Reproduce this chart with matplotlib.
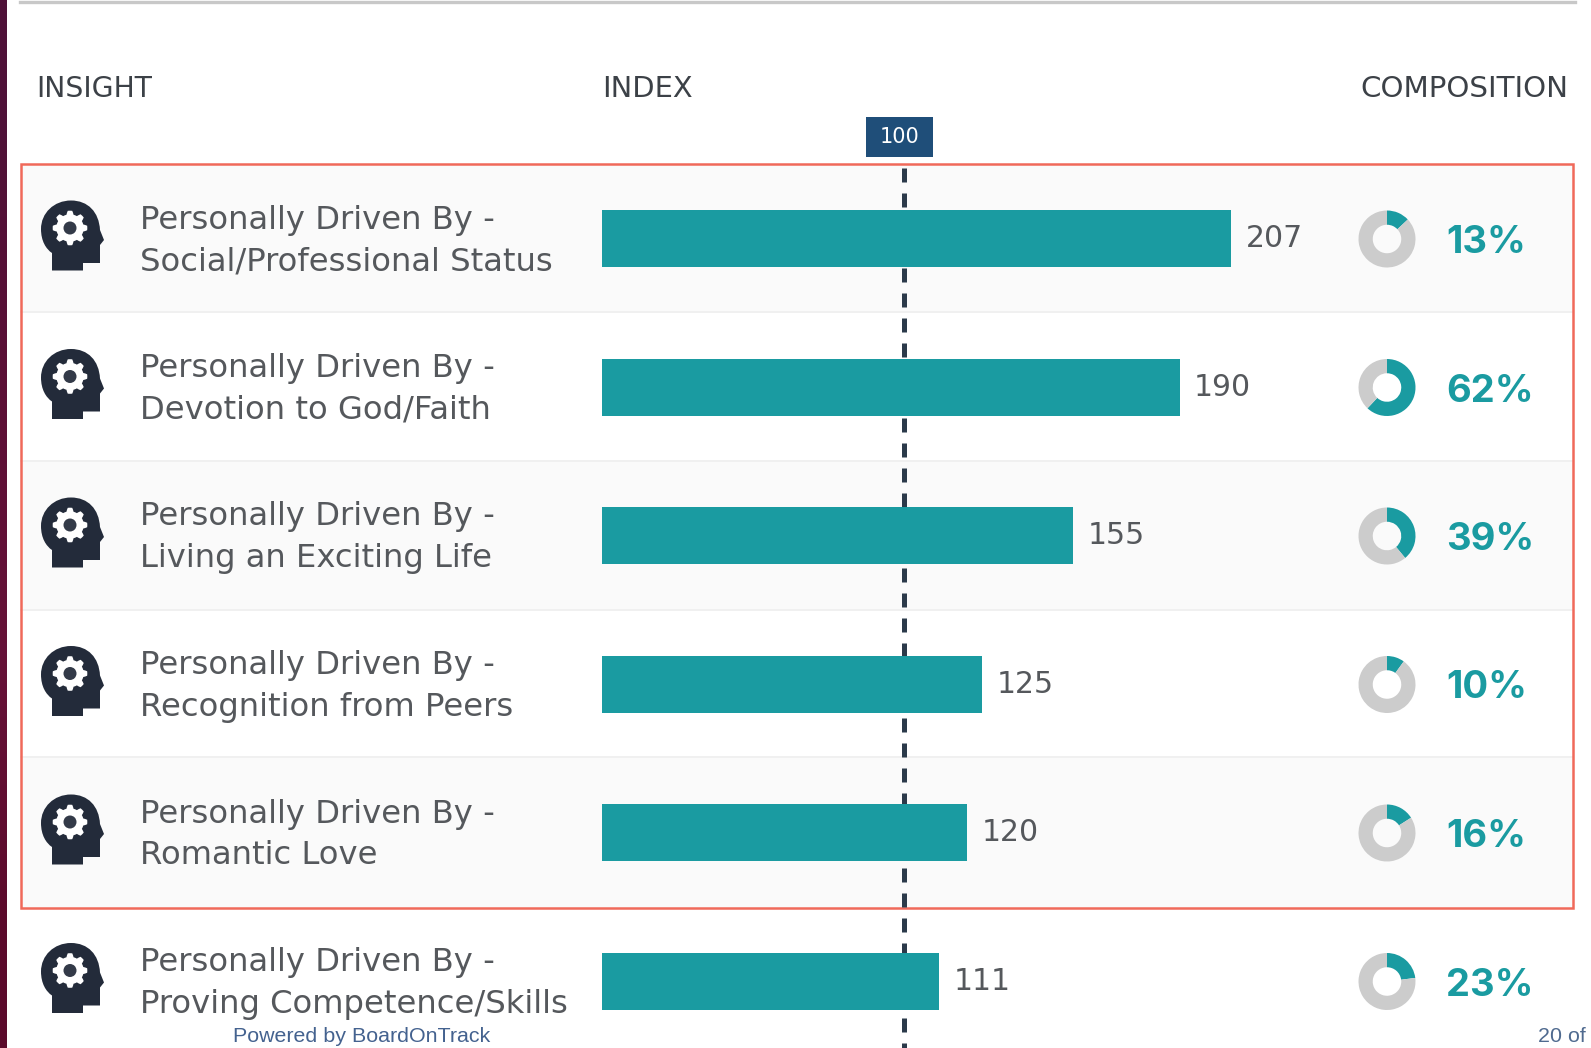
import matplotlib
matplotlib.use('Agg')
import matplotlib.pyplot as plt
from matplotlib.patches import Rectangle, PathPatch, Circle
from matplotlib.path import Path
from matplotlib.transforms import offset_copy
import numpy as np

plt.rcParams['font.family'] = ['DejaVu Sans']

# Data
drivers = ['Social/Professional Status', 'Devotion to God/Faith', 'Living an Exciting Life',
           'Recognition from Peers', 'Romantic Love', 'Proving Competence/Skills']
prefix = 'Personally Driven By -'
index_values = [207, 190, 155, 125, 120, 111]
composition = [13, 62, 39, 10, 16, 23]
reference = 100

W, H = 1591, 1048
TEAL = '#1a9ba1'
TEXT = '#55585c'
ROW0 = 239.0
PITCH = 148.5

fig = plt.figure(figsize=(W/100, H/100), dpi=100, facecolor='white')

# page layer, in pixels
bg = fig.add_axes([0, 0, 1, 1])
bg.set_xlim(0, W)
bg.set_ylim(H, 0)
bg.axis('off')

# left strip and top rule
strip = np.array([[0.31, 0.07, 0.22], [0.36, 0.06, 0.21], [0.40, 0.07, 0.22], [0.36, 0.04, 0.17]])
bg.imshow(strip[:, None, :], extent=[0, 7, H, 0], aspect='auto', interpolation='bilinear')
bg.set_xlim(0, W)
bg.set_ylim(H, 0)
bg.plot([20, 1575], [2, 2], color='#c8c8c8', lw=2.4)

# row bands, every other row shaded
edges = [164, 312, 461, 610, 757, 908]
for i in range(5):
    if i % 2 == 0:
        bg.add_patch(Rectangle((21, edges[i]), 1552, edges[i+1]-edges[i], fc='#fafafa', ec='none'))
    if i < 4:
        bg.plot([21, 1573], [edges[i+1], edges[i+1]], color='#eeeeee', lw=1.2)


def head_icon(dy):
    verts = [(52, 270.5), (52, 253), (46, 249), (41, 241), (41, 229), (41, 213), (54, 200.5), (71, 200.5),
             (88, 200.5), (99, 212), (100, 230), (104, 240), (104, 240), (100, 245), (100, 245),
             (100, 263), (83, 263), (83, 270.5), (52, 270.5)]
    codes = [Path.MOVETO, Path.LINETO, Path.CURVE4, Path.CURVE4, Path.CURVE4, Path.CURVE4, Path.CURVE4, Path.CURVE4,
             Path.CURVE4, Path.CURVE4, Path.CURVE4, Path.LINETO, Path.LINETO, Path.LINETO, Path.LINETO,
             Path.LINETO, Path.LINETO, Path.LINETO, Path.CLOSEPOLY]
    verts = [(x, y + dy) for x, y in verts]
    bg.add_patch(PathPatch(Path(verts, codes), fc='#232b3a', ec='none', zorder=3))
    ang = np.linspace(0, 2*np.pi, 96, endpoint=False)
    rad = 15.5 + 1.8*np.clip(2*np.cos(8*ang), -1, 1)
    gear = np.c_[70 + rad*np.cos(ang), 228 + dy + rad*np.sin(ang)]
    bg.fill(gear[:, 0], gear[:, 1], fc='white', ec='none', zorder=4)
    bg.add_patch(Circle((70, 228 + dy), 6.5, fc='#333a48', ec='none', zorder=5))


for i, name in enumerate(drivers):
    cy = ROW0 + PITCH*i
    head_icon(PITCH*i)
    bg.text(140, cy - 19, prefix, fontsize=23.2, color=TEXT, va='center', ha='left')
    bg.text(140, cy + 23, name, fontsize=23.2, color=TEXT, va='center', ha='left')

# red highlight box
bg.add_patch(Rectangle((21, 164), 1552, 744, fc='none', ec='#f0695a', lw=1.8, zorder=6))

# headers
bg.text(36, 89, 'INSIGHT', fontsize=20.3, color='#3c4147', va='center', ha='left')
bg.text(602, 89, 'INDEX', fontsize=20.8, color='#3c4147', va='center', ha='left')
bg.text(1360, 89, 'COMPOSITION', fontsize=21.2, color='#3c4147', va='center', ha='left')

# index marker
bg.add_patch(Rectangle((866, 117), 67, 40, fc='#1f4e79', ec='none', zorder=7))
bg.text(899.5, 137, str(reference), fontsize=15, color='white', va='center', ha='center', zorder=8)

# footer
bg.text(233, 1037, 'Powered by BoardOnTrack', fontsize=15.4, color='#44628f', va='center', ha='left',
        family='Liberation Sans')
bg.text(1538, 1037, '20 of', fontsize=15.4, color='#4f6a8f', va='center', ha='left',
        family='Liberation Sans')

# bars
ax = fig.add_axes([602/W, 0, 1 - 602/W, 1])
ax.patch.set_alpha(0)
ax.set_xlim(0, (W - 602)/3.04)
ax.set_ylim((H - ROW0)/PITCH, -ROW0/PITCH)
ax.axis('off')
ypos = np.arange(len(index_values))
ax.plot([reference, reference], [(168 - ROW0)/PITCH, (H - ROW0)/PITCH], color='#2b3a4a', lw=3.6,
        linestyle=(0, (14/5, 11/5)), dash_capstyle='butt', zorder=1,
        transform=offset_copy(ax.transData, fig=fig, x=-2, units='dots'))
ax.barh(ypos, index_values, height=57/PITCH, color=TEAL, zorder=2)
for y, v in zip(ypos, index_values):
    ax.annotate(str(v), (v, y), xytext=(10.5, 0), textcoords='offset points', fontsize=21.5, color=TEXT,
                va='center', ha='left')

# composition donuts
for i, pct in enumerate(composition):
    cy = ROW0 + PITCH*i
    d = 57
    dax = fig.add_axes([(1387 - d/2)/W, 1 - (cy + d/2)/H, d/W, d/H])
    dax.pie([pct, 100 - pct], colors=[TEAL, '#cccccc'], startangle=90, counterclock=False,
            radius=1, wedgeprops={'width': 0.5, 'linewidth': 0})
    dax.set_xlim(-1, 1)
    dax.set_ylim(-1, 1)
    bg.text(1446, cy + 4, '%d%%' % pct, fontsize=27.5, fontweight='bold', color=TEAL, va='center', ha='left',
            family='Inter')

fig.savefig('out.png', dpi=100)
